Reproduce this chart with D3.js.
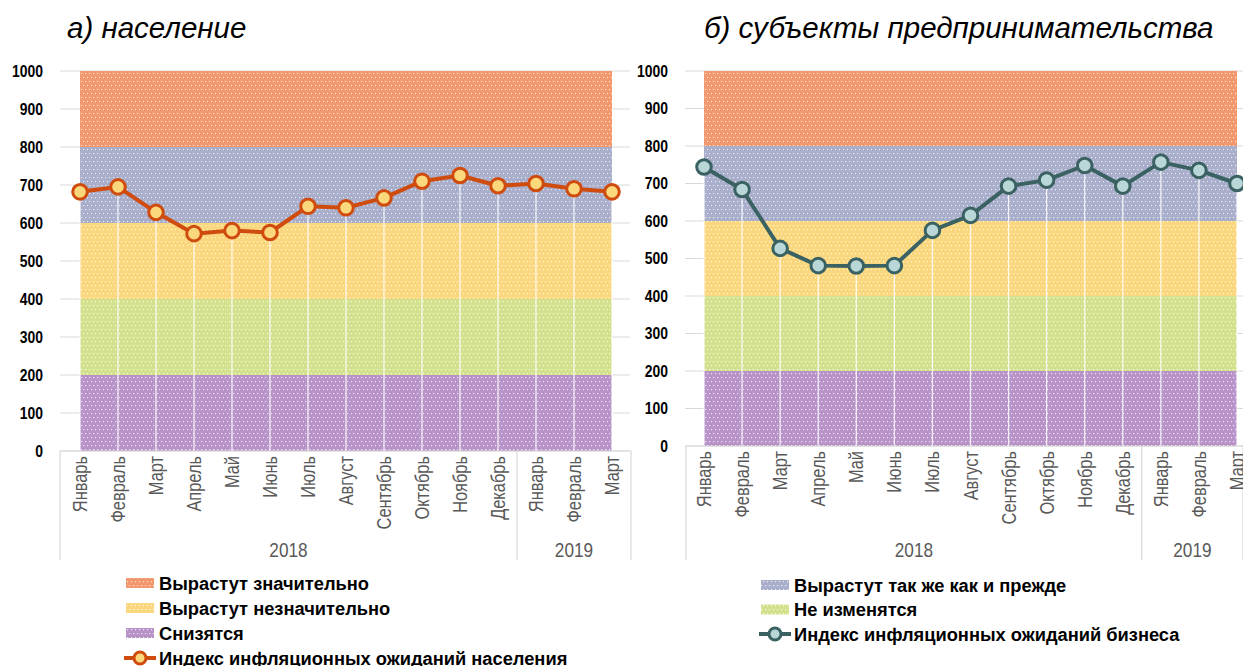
<!DOCTYPE html>
<html><head><meta charset="utf-8">
<script src="https://cdnjs.cloudflare.com/ajax/libs/d3/7.8.5/d3.min.js"></script>
<style>
body{margin:0;background:#fff;}
svg{display:block;}
</style></head>
<body><svg id="c" width="1243" height="666"></svg>
<script>
// ---------- DATA ----------
const months = ["Январь","Февраль","Март","Апрель","Май","Июнь","Июль","Август","Сентябрь","Октябрь","Ноябрь","Декабрь","Январь","Февраль","Март"];
const years = [{label:"2018", from:0, to:11},{label:"2019", from:12, to:14}];
const yTicks = [0,100,200,300,400,500,600,700,800,900,1000];
const bandDecrease   = [200,200,200,200,200,200,200,200,200,200,200,200,200,200,200]; // Снизятся
const bandNoChange   = [200,200,200,200,200,200,200,200,200,200,200,200,200,200,200]; // Не изменятся
const bandSlight     = [200,200,200,200,200,200,200,200,200,200,200,200,200,200,200]; // Вырастут незначительно
const bandSame       = [200,200,200,200,200,200,200,200,200,200,200,200,200,200,200]; // Вырастут так же как и прежде
const bandStrong     = [200,200,200,200,200,200,200,200,200,200,200,200,200,200,200]; // Вырастут значительно
const populationIndex = [682,695,628,572,580,575,644,640,666,710,725,698,704,690,682];
const businessIndex   = [744,684,527,481,480,481,575,615,693,709,748,693,757,735,700];
const bandNames = ["Снизятся","Не изменятся","Вырастут незначительно","Вырастут так же как и прежде","Вырастут значительно"];
const bandColors = ["#B893C8","#D3E18C","#FAD77C","#A9AECB","#F3976C"];

// ---------- DRAW ----------
const svg = d3.select("#c");
const defs = svg.append("defs");
bandColors.forEach((c,i)=>{
  const p = defs.append("pattern").attr("id","pat"+i).attr("patternUnits","userSpaceOnUse")
    .attr("width",8).attr("height",8);
  p.append("rect").attr("width",8).attr("height",8).attr("fill",c);
  [[1,1],[5,1],[3,5],[7,5]].forEach(([x,y])=>{
    p.append("rect").attr("x",x).attr("y",y).attr("width",1.2).attr("height",1.2).attr("fill","#fff").attr("opacity",0.75);
  });
});
const bandData = [bandDecrease,bandNoChange,bandSlight,bandSame,bandStrong];
const stackRows = months.map((m,i)=>{const o={i}; bandData.forEach((b,k)=>o["b"+k]=b[i]); return o;});
const stacked = d3.stack().keys(bandData.map((b,k)=>"b"+k))(stackRows);
const FONT = "'Liberation Sans',Arial,sans-serif";
const NARROW = 0.82;

function chart(cfg){
  const g = svg.append("g");
  const x = d3.scalePoint().domain(d3.range(months.length)).range([cfg.x0,cfg.x1]);
  const y = d3.scaleLinear().domain([0,1000]).range([cfg.yb,cfg.yt]);
  // gridlines
  g.append("g").selectAll("line").data(yTicks).join("line")
    .attr("x1",cfg.gx0).attr("x2",cfg.gx1).attr("y1",d=>y(d)).attr("y2",d=>y(d))
    .attr("stroke","#D9D9D9").attr("stroke-width",1);
  // y labels
  g.append("g").selectAll("text").data(yTicks).join("text")
    .attr("transform",d=>`translate(${cfg.lx},${y(d)}) scale(${NARROW},1)`)
    .attr("dy","0.35em").attr("text-anchor","end")
    .attr("font-family",FONT)
    .attr("font-weight","bold").attr("font-size",17).attr("fill","#000").text(d=>d);
  // bands
  const area = d3.area().x(d=>x(d.data.i)).y0(d=>y(d[0])).y1(d=>y(d[1]));
  cfg.bands.forEach(k=>{
    g.append("path").datum(stacked[k]).attr("d",area).attr("fill","url(#pat"+k+")");
  });
  // drop lines
  g.append("g").selectAll("line").data(cfg.values).join("line")
    .attr("x1",(d,i)=>x(i)).attr("x2",(d,i)=>x(i)).attr("y1",d=>y(d)).attr("y2",y(0))
    .attr("stroke","#fff").attr("stroke-width",1.3).attr("opacity",0.85);
  // category axis box
  const ax = g.append("g").attr("stroke","#D9D9D9").attr("stroke-width",1.2);
  ax.append("line").attr("x1",cfg.bx0).attr("x2",cfg.bx1).attr("y1",y(0)).attr("y2",y(0));
  const seps = [cfg.bx0, (x(11)+x(12))/2, cfg.bx1];
  seps.forEach(s=>ax.append("line").attr("x1",s).attr("x2",s).attr("y1",y(0)).attr("y2",560));
  // month labels
  g.append("g").selectAll("text").data(months).join("text")
    .attr("transform",(d,i)=>`translate(${x(i)},${y(0)+5}) rotate(-90) scale(${NARROW},1)`)
    .attr("dy","0.35em").attr("text-anchor","end")
    .attr("font-family",FONT)
    .attr("font-size",20).attr("fill","#595959").text(d=>d);
  // year labels
  g.append("g").selectAll("text").data(years).join("text")
    .attr("transform",d=>{const a = d.from===0?cfg.bx0:seps[1]; const b = d.from>0?cfg.bx1:seps[1]; return `translate(${(a+b)/2},557) scale(${NARROW},1)`;})
    .attr("text-anchor","middle")
    .attr("font-family",FONT)
    .attr("font-size",21).attr("fill","#595959").text(d=>d.label);
  // line
  const line = d3.line().x((d,i)=>x(i)).y(d=>y(d));
  g.append("path").datum(cfg.values).attr("d",line).attr("fill","none")
    .attr("stroke",cfg.lineColor).attr("stroke-width",4).attr("stroke-linejoin","round");
  g.append("g").selectAll("circle").data(cfg.values).join("circle")
    .attr("cx",(d,i)=>x(i)).attr("cy",d=>y(d)).attr("r",7.3)
    .attr("fill",cfg.markerFill).attr("stroke",cfg.lineColor).attr("stroke-width",3);
  // title
  g.append("text").attr("x",cfg.tx).attr("y",38)
    .attr("font-family",FONT).attr("font-style","italic")
    .attr("font-size",29.5).attr("fill","#000").text(cfg.title);
  // legend
  const lg = g.append("g");
  cfg.legend.forEach((it,j)=>{
    const ly = cfg.ly + j*cfg.lstep;
    if(it.type==="band"){
      lg.append("rect").attr("x",cfg.lsx).attr("y",ly-5).attr("width",28).attr("height",10).attr("fill","url(#pat"+it.k+")");
    } else {
      lg.append("line").attr("x1",cfg.lsx-2).attr("x2",cfg.lsx+30).attr("y1",ly).attr("y2",ly)
        .attr("stroke",cfg.lineColor).attr("stroke-width",4);
      lg.append("circle").attr("cx",cfg.lsx+14).attr("cy",ly).attr("r",6)
        .attr("fill",cfg.markerFill).attr("stroke",cfg.lineColor).attr("stroke-width",3);
    }
    lg.append("text").attr("x",cfg.lsx+33).attr("y",ly).attr("dy","0.36em")
      .attr("font-family",FONT).attr("font-weight","bold")
      .attr("font-size",18.3).attr("fill","#000").text(it.label);
  });
}

chart({x0:80,x1:612,yb:451,yt:71,gx0:60,gx1:630,lx:43,bx0:60,bx1:631,
  bands:[0,1,2,3,4], values:populationIndex, lineColor:"#CF4C0E", markerFill:"#FCD87C",
  title:"а) население", tx:67,
  lsx:126, ly:583, lstep:25,
  legend:[{type:"band",k:4,label:bandNames[4]},{type:"band",k:2,label:bandNames[2]},{type:"band",k:0,label:bandNames[0]},{type:"line",label:"Индекс инфляционных ожиданий населения"}]});
chart({x0:704,x1:1237,yb:446,yt:71,gx0:685,gx1:1243,lx:668,bx0:686,bx1:1243,
  bands:[0,1,2,3,4], values:businessIndex, lineColor:"#3B6262", markerFill:"#BAD7D8",
  title:"б) субъекты предпринимательства", tx:704,
  lsx:761, ly:585, lstep:24.5,
  legend:[{type:"band",k:3,label:bandNames[3]},{type:"band",k:1,label:bandNames[1]},{type:"line",label:"Индекс инфляционных ожиданий бизнеса"}]});
</script></body></html>
